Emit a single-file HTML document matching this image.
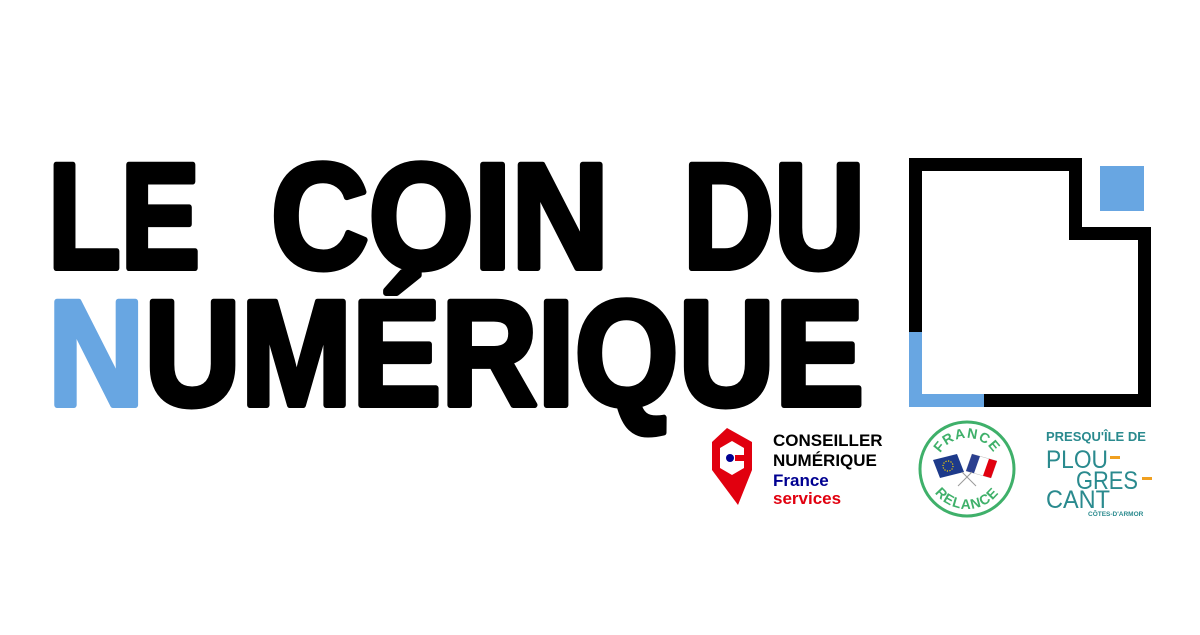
<!DOCTYPE html>
<html><head><meta charset="utf-8"><style>
html,body{margin:0;padding:0;background:#fff;}
body{width:1200px;height:630px;overflow:hidden;}
</style></head><body>
<svg width="1200" height="630" viewBox="0 0 1200 630" xmlns="http://www.w3.org/2000/svg">
<rect width="1200" height="630" fill="#fff"/>
<g font-family="Liberation Sans, sans-serif" font-weight="bold" font-size="150" fill="#000" stroke="#000" stroke-width="6" stroke-linejoin="round">
  <text x="48" y="268" textLength="152" lengthAdjust="spacingAndGlyphs">LE</text>
  <text x="271" y="268" textLength="338" lengthAdjust="spacingAndGlyphs">COIN</text>
  <text x="683" y="268" textLength="182" lengthAdjust="spacingAndGlyphs">DU</text>
  <text x="48" y="405" textLength="816" lengthAdjust="spacingAndGlyphs"><tspan fill="#68a6e2" stroke="#68a6e2">N</tspan>UMÉRIQUE</text>
</g>
<!-- square logo -->
<path d="M909 158 H1082 V227 H1151 V407 H909 Z M922 171 V394 H1138 V240 H1069 V171 Z" fill="#000" fill-rule="evenodd"/>
<rect x="909" y="332" width="13" height="75" fill="#68a6e2"/>
<rect x="909" y="394" width="75" height="13" fill="#68a6e2"/>
<rect x="1100" y="166" width="44" height="45" fill="#68a6e2"/>
<!-- Conseiller numerique pin -->
<path d="M727 428 L752 442 V470 L738 505 L712 470 V442 Z" fill="#e1000f"/>
<path d="M732 441 L744 448 V455 H735 V461 H744 V468 L732 475 L720 468 V448 Z" fill="#fff"/>
<circle cx="730" cy="458" r="4" fill="#000091"/>
<g font-family="Liberation Sans, sans-serif" font-weight="bold" font-size="17">
  <text x="773" y="446" fill="#000">CONSEILLER</text>
  <text x="773" y="466" fill="#000">NUMÉRIQUE</text>
  <text x="773" y="486" fill="#000091">France</text>
  <text x="773" y="504" fill="#e1000f">services</text>
</g>
<!-- France relance -->
<circle cx="967" cy="469" r="47" fill="none" stroke="#3fb06a" stroke-width="3"/>
<defs>
<path id="arcTop" d="M936 469 A31 31 0 0 1 998 469"/>
<path id="arcBot" d="M927 469 A40 40 0 0 0 1007 469"/>
</defs>
<text font-family="Liberation Sans, sans-serif" font-weight="bold" font-size="14" fill="#3fb06a" letter-spacing="1"><textPath href="#arcTop" startOffset="50%" text-anchor="middle">FRANCE</textPath></text>
<text font-family="Liberation Sans, sans-serif" font-weight="bold" font-size="14" fill="#3fb06a" letter-spacing="1"><textPath href="#arcBot" startOffset="50%" text-anchor="middle">RELANCE</textPath></text>
<path d="M933 460 L957 454 L964 472 L940 478 Z" fill="#1d3a8a"/>
<circle cx="948" cy="466" r="5" fill="none" stroke="#f5d000" stroke-width="1.2" stroke-dasharray="1.2 1.4"/>
<path d="M972 454 L997 461 L991 478 L966 471 Z" fill="#fff" stroke="#bbb" stroke-width="0.5"/>
<path d="M972 454 L980 456.3 L974 473.3 L966 471 Z" fill="#2b3f8f"/>
<path d="M989 458.7 L997 461 L991 478 L983 475.7 Z" fill="#e1000f"/>
<line x1="958" y1="486" x2="972" y2="472" stroke="#999" stroke-width="1"/>
<line x1="976" y1="486" x2="962" y2="472" stroke="#999" stroke-width="1"/>
<!-- Plougrescant -->
<g font-family="Liberation Sans, sans-serif" fill="#2a8a8e">
  <text x="1046" y="441" font-size="13" font-weight="bold">PRESQU'ÎLE DE</text>
  <text x="1046" y="468" font-size="25" textLength="62" lengthAdjust="spacingAndGlyphs">PLOU</text>
  <text x="1076" y="489" font-size="25" textLength="62" lengthAdjust="spacingAndGlyphs">GRES</text>
  <text x="1046" y="508" font-size="25" textLength="64" lengthAdjust="spacingAndGlyphs">CANT</text>
  <text x="1088" y="516" font-size="6.5" font-weight="bold">CÔTES-D'ARMOR</text>
</g>
<rect x="1110" y="456" width="10" height="3" fill="#f0a020"/>
<rect x="1142" y="477" width="10" height="3" fill="#f0a020"/>
</svg>
</body></html>
